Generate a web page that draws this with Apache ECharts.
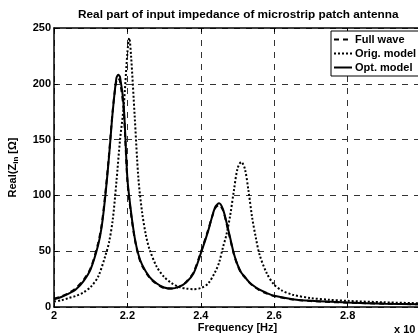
<!DOCTYPE html>
<html><head><meta charset="utf-8">
<script src="https://cdn.jsdelivr.net/npm/echarts@6/dist/echarts.min.js"></script>
<style>html,body{margin:0;padding:0;background:#fff}#c{width:418px;height:335px}</style>
</head><body><div id="c"></div>
<script>
const freqA = [2.00,2.02,2.04,2.06,2.08,2.10,2.12,2.13,2.14,2.15,2.16,2.17,2.175,2.18,2.19,2.20,2.21,2.22,2.23,2.24,2.26,2.28,2.30,2.32,2.34,2.36,2.38,2.40,2.42,2.43,2.44,2.45,2.46,2.47,2.48,2.49,2.50,2.51,2.52,2.53,2.54,2.56,2.58,2.60,2.65,2.70,2.80,2.90,3.00];
const fullWave = [7.5,9.5,12.5,17,24,35,57,74,102,137,176,203,205,202,176,113,83,61,46,37,26.5,20.5,17,16.5,18,22.5,31,49,69,80,89,91.5,87,75,61,47.5,37.5,30.5,26.5,22.5,19.5,15,12,9.8,6.8,5.3,3.9,3,2.4];
const optModel = [7,9,12,16,23,34,55,72,100,135,175,205,208,206,180,115,85,62,47,38,27,21,17.5,16.5,18,22,30,48,68,80,90,93,88,76,62,48,38,31,27,23,20,15.5,12.5,10,7,5.5,4,3,2.5];
const freqB = [2.00,2.02,2.04,2.06,2.08,2.10,2.12,2.14,2.15,2.16,2.17,2.18,2.19,2.20,2.205,2.21,2.22,2.23,2.24,2.25,2.26,2.28,2.30,2.32,2.34,2.36,2.38,2.40,2.42,2.44,2.45,2.46,2.47,2.48,2.49,2.50,2.51,2.52,2.53,2.54,2.55,2.56,2.58,2.60,2.62,2.65,2.70,2.75,2.80,2.90,3.00];
const origModel = [5,6,8,10,13,18,27,46,58,78,112,150,180,228,241,225,170,115,85,65,52,36,27,21.5,18,16.5,16,17,21,32,40,53,65,82,104,124,130,124,104,80,62,47,30,20,15,11,8,6.5,5.5,4.2,3.3];
const xTicks = ['2','2.2','2.4','2.6','2.8','3'];
const yTicks = [0,50,100,150,200,250];

const F = 'Liberation Sans, Arial, sans-serif';
const zip = (xs, ys) => xs.map((x, i) => [x, ys[i]]);
const chart = echarts.init(document.getElementById('c'), null, {renderer: 'canvas'});
const lbl = {color: '#000', fontFamily: F, fontSize: 11, fontWeight: 'bold'};
chart.setOption({
  animation: false,
  title: {text: 'Real part of input impedance of microstrip patch antenna', left: 73, top: 4,
    textStyle: {color: '#000', fontFamily: F, fontSize: 11.8, fontWeight: 'bold'}},
  grid: {left: 54, top: 28, width: 367, height: 279, containLabel: false, outerBoundsMode: 'none'},
  legend: {orient: 'vertical', left: 331, top: 31, itemWidth: 18, itemHeight: 10, itemGap: 3,
    padding: [3, 20, 3, 2], backgroundColor: '#fff', borderColor: '#000', borderWidth: 1,
    itemStyle: {color: 'transparent', borderColor: 'transparent', borderWidth: 0},
    textStyle: {color: '#000', fontFamily: F, fontSize: 11, fontWeight: 'bold', padding: [0,0,0,-2]},
    data: ['Full wave', 'Orig. model', 'Opt. model']},
  xAxis: [{type: 'value', min: 2, max: 3, interval: 0.2,
    name: 'Frequency [Hz]', nameLocation: 'middle', nameGap: 15, nameMoveOverlap: false,
    nameTextStyle: Object.assign({verticalAlign: 'top'}, lbl),
    axisLine: {lineStyle: {color: '#000', width: 1.5}},
    axisTick: {inside: true, length: 4, lineStyle: {color: '#000'}},
    axisLabel: Object.assign({margin: 3, formatter: v => xTicks[Math.round((v - 2) / 0.2)]}, lbl),
    splitLine: {show: true, lineStyle: {color: '#333', width: 1, type: [6, 6]}}},
   {type: 'value', position: 'top', min: 2, max: 3, interval: 0.2,
    axisLine: {show: true, onZero: false, lineStyle: {color: '#000', width: 1.5}},
    axisTick: {inside: true, length: 4, lineStyle: {color: '#000'}},
    axisLabel: {show: false}, splitLine: {show: false}}],
  yAxis: {type: 'value', min: 0, max: 250, interval: 50,
    name: '{a|Real(Z}{s|in}{a| [Ω]}', nameLocation: 'middle', nameGap: 34, nameRotate: 90,
    nameTextStyle: {rich: {a: lbl, s: {color: '#000', fontFamily: F, fontSize: 8, fontWeight: 'bold', verticalAlign: 'bottom', padding: [6,0,0,0]}}},
    axisLine: {show: true, lineStyle: {color: '#000', width: 1.5}},
    axisTick: {inside: true, length: 4, lineStyle: {color: '#000'}},
    axisLabel: Object.assign({margin: 3, formatter: v => String(yTicks[Math.round(v / 50)])}, lbl),
    splitLine: {show: true, lineStyle: {color: '#333', width: 1, type: [6, 6]}}},
  graphic: [{type: 'text', left: 394, top: 324, style: {text: 'x 10', fill: '#000', font: 'bold 11px ' + F}}],
  series: [
    {name: 'Full wave', type: 'line', data: zip(freqA, fullWave), symbol: 'none', smooth: 0.3,
      lineStyle: {color: '#000', width: 2, type: [5, 4]}, itemStyle: {color: '#000'}},
    {name: 'Orig. model', type: 'line', data: zip(freqB, origModel), symbol: 'none', smooth: 0.3,
      lineStyle: {color: '#000', width: 2, type: [2, 2]}, itemStyle: {color: '#000'}},
    {name: 'Opt. model', type: 'line', data: zip(freqA, optModel), symbol: 'none', smooth: 0.3,
      lineStyle: {color: '#000', width: 2}, itemStyle: {color: '#000'}}
  ]
});
</script></body></html>
